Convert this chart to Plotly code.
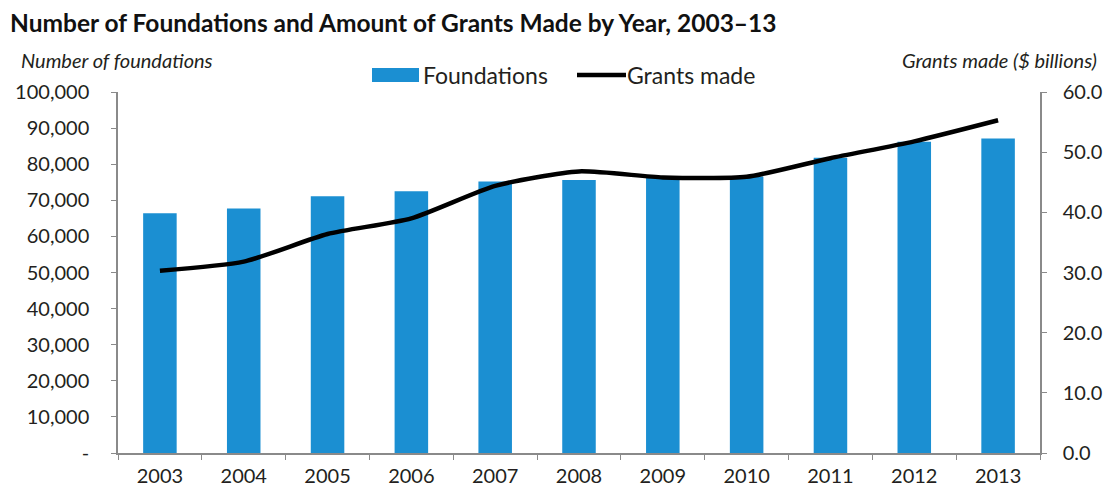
import plotly.graph_objects as go

# Foundations count and grants made per year
years = ["2003", "2004", "2005", "2006", "2007", "2008", "2009", "2010", "2011", "2012", "2013"]
foundations = [66400, 67700, 71100, 72500, 75200, 75600, 76500, 76600, 81800, 86200, 87100]
grants_bn = [30.3, 31.8, 36.4, 39.0, 44.4, 46.8, 45.8, 45.9, 49.0, 51.8, 55.3]

left_ticks = [0, 10000, 20000, 30000, 40000, 50000, 60000, 70000, 80000, 90000, 100000]
left_labels = ["-", "10,000", "20,000", "30,000", "40,000", "50,000", "60,000",
               "70,000", "80,000", "90,000", "100,000"]
right_ticks = [0, 10, 20, 30, 40, 50, 60]
right_labels = ["0.0", "10.0", "20.0", "30.0", "40.0", "50.0", "60.0"]

BLUE = "#1b8fd2"
AXIS = "#8a8a8a"
TEXT = "#231f20"
FONT = "Lato"

W, H = 1104, 490
ML, MR, MT, MB = 118, 64, 92, 37
PW, PH = W - ML - MR, H - MT - MB


def px_x(x):
    return (x - ML) / PW


def px_y(y):
    return (H - MB - y) / PH


fig = go.Figure()
fig.add_trace(go.Bar(
    x=years, y=foundations, name="Foundations",
    marker=dict(color=BLUE, line=dict(width=0)),
    showlegend=False, yaxis="y",
))
fig.add_trace(go.Scatter(
    x=years, y=grants_bn, name="Grants made", mode="lines",
    line=dict(color="#000000", width=4.5, shape="spline", smoothing=0.6),
    showlegend=False, yaxis="y2",
))

tick_font = dict(family=FONT, size=20, color=TEXT)

fig.update_layout(
    width=W, height=H,
    margin=dict(l=ML, r=MR, t=MT, b=MB, autoexpand=False),
    paper_bgcolor="white", plot_bgcolor="white",
    bargap=0.6,
    title=dict(
        text="<b>Number of Foundations and Amount of Grants Made by Year, 2003\u201313</b>",
        x=10 / W, xanchor="left", y=1 - 23 / H, yanchor="middle",
        font=dict(family=FONT, size=24.5, color="#111111"),
    ),
    xaxis=dict(
        type="category", tickson="boundaries", ticks="outside", ticklen=5,
        tickcolor=AXIS, showline=True, linecolor=AXIS, linewidth=1.5,
        showgrid=False, tickfont=tick_font, ticklabelstandoff=4,
        automargin=False,
    ),
    xaxis2=dict(
        overlaying="x", anchor="y", range=[-0.5, 10.5],
        tickvals=[i - 0.5 for i in range(12)], ticks="inside", ticklen=5,
        tickcolor=AXIS, showticklabels=False, showline=False, showgrid=False,
        zeroline=False, automargin=False,
    ),
    yaxis=dict(
        range=[0, 100000], tickvals=left_ticks, ticktext=left_labels,
        ticks="outside", ticklen=5, tickcolor=AXIS, showline=True,
        linecolor=AXIS, linewidth=1.5, showgrid=False, zeroline=False,
        tickfont=tick_font, ticklabelstandoff=18, automargin=False,
    ),
    yaxis2=dict(
        range=[0, 60], tickvals=right_ticks, ticktext=right_labels,
        overlaying="y", side="right", anchor="x",
        ticks="outside", ticklen=5, tickcolor=AXIS, showline=True,
        linecolor=AXIS, linewidth=1.5, showgrid=False, zeroline=False,
        tickfont=tick_font, ticklabelstandoff=12, automargin=False,
    ),
    yaxis3=dict(
        range=[0, 100000], tickvals=left_ticks, overlaying="y", side="left",
        anchor="x", ticks="inside", ticklen=5, tickcolor=AXIS,
        showticklabels=False, showline=False, showgrid=False, zeroline=False,
        automargin=False,
    ),
    yaxis4=dict(
        range=[0, 60], tickvals=right_ticks, overlaying="y", side="right",
        anchor="x", ticks="inside", ticklen=5, tickcolor=AXIS,
        showticklabels=False, showline=False, showgrid=False, zeroline=False,
        automargin=False,
    ),
)

# Axis titles
fig.add_annotation(
    text="<i>Number of foundations</i>", xref="paper", yref="paper",
    x=px_x(19), y=px_y(60), xanchor="left", yanchor="middle", showarrow=False,
    font=dict(family=FONT, size=20, color=TEXT),
)
fig.add_annotation(
    text="<i>Grants made ($ billions)</i>", xref="paper", yref="paper",
    x=px_x(1099), y=px_y(60), xanchor="right", yanchor="middle", showarrow=False,
    font=dict(family=FONT, size=20, color=TEXT),
)

# Legend
fig.add_shape(
    type="rect", xref="paper", yref="paper",
    x0=px_x(372), x1=px_x(419), y0=px_y(82), y1=px_y(68),
    fillcolor=BLUE, line=dict(width=0),
)
fig.add_annotation(
    text="Foundations", xref="paper", yref="paper",
    x=px_x(421), y=px_y(75), xanchor="left", yanchor="middle", showarrow=False,
    font=dict(family=FONT, size=23, color=TEXT),
)
fig.add_shape(
    type="line", xref="paper", yref="paper",
    x0=px_x(577), x1=px_x(626), y0=px_y(75), y1=px_y(75),
    line=dict(color="#000000", width=4.5),
)
fig.add_annotation(
    text="Grants made", xref="paper", yref="paper",
    x=px_x(625), y=px_y(75), xanchor="left", yanchor="middle", showarrow=False,
    font=dict(family=FONT, size=23, color=TEXT),
)

fig.write_html("out.html")
